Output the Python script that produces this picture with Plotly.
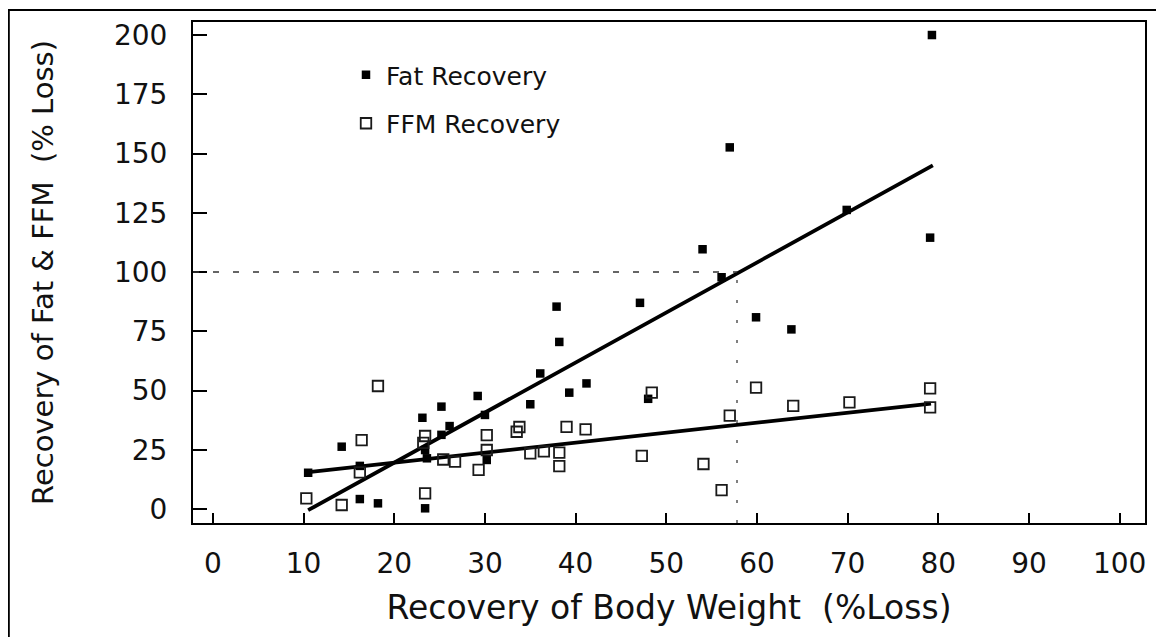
import plotly.graph_objects as go

# ---- data ----
fat_x = [10.5, 14.2, 16.2, 16.2, 18.2, 23.1, 23.4, 23.6, 23.4, 25.2, 25.2, 26.1,
         29.2, 30.0, 30.2, 36.1, 35.0, 37.9, 38.2, 39.3, 41.2, 47.1, 48.0, 54.0,
         56.1, 57.0, 59.9, 63.8, 69.9, 79.1, 79.3]
fat_y = [15.3, 26.3, 18.2, 4.2, 2.4, 38.5, 24.9, 21.4, 0.3, 43.2, 31.3, 35.0,
         47.7, 39.7, 20.7, 57.2, 44.2, 85.4, 70.5, 49.1, 53.0, 87.0, 46.5, 109.6,
         97.8, 152.6, 80.9, 75.8, 126.2, 114.5, 200.0]

ffm_x = [10.3, 14.2, 16.2, 16.4, 18.2, 23.4, 23.2, 23.4, 25.4, 26.7, 29.3, 30.2,
         30.2, 33.8, 33.5, 35.0, 36.5, 38.2, 38.2, 39.0, 41.1, 47.3, 48.4, 54.1,
         56.1, 57.0, 59.9, 64.0, 70.2, 79.1, 79.1]
ffm_y = [4.5, 1.7, 15.5, 29.1, 51.9, 30.8, 27.9, 6.6, 20.9, 20.0, 16.5, 31.2,
         24.9, 34.6, 32.6, 23.5, 24.3, 23.8, 18.1, 34.7, 33.6, 22.4, 49.1, 19.0,
         8.0, 39.4, 51.2, 43.5, 45.0, 50.9, 42.9]

# regression line end points (as drawn)
fat_fit_x = [10.5, 79.4]
fat_fit_y = [-0.5, 145.0]
ffm_fit_x = [10.3, 79.2]
ffm_fit_y = [15.5, 44.5]

ref_x = 57.8   # body weight recovery where fat recovery reaches 100 %
ref_y = 100.0

x_ticks = [0, 10, 20, 30, 40, 50, 60, 70, 80, 90, 100]
y_ticks = [0, 25, 50, 75, 100, 125, 150, 175, 200]
x_range = [-2.2, 102.8]
y_range = [-5.9, 205.5]

FONT = "DejaVu Sans"
INK = "#111111"

fig = go.Figure()

fig.add_trace(go.Scatter(
    x=fat_fit_x, y=fat_fit_y, mode="lines",
    line=dict(color="black", width=3.8), showlegend=False, hoverinfo="skip"))
fig.add_trace(go.Scatter(
    x=ffm_fit_x, y=ffm_fit_y, mode="lines",
    line=dict(color="black", width=3.8), showlegend=False, hoverinfo="skip"))

fig.add_trace(go.Scatter(
    x=fat_x, y=fat_y, mode="markers", name="Fat Recovery", legendgroup="a",
    marker=dict(symbol="square", size=8.5, color="black")))
fig.add_trace(go.Scatter(
    x=ffm_x, y=ffm_y, mode="markers", name="FFM Recovery", legendgroup="b",
    marker=dict(symbol="square-open", size=10.5, color="#1a1a1a",
                line=dict(width=1.8))))

# reference lines
fig.add_shape(type="line", xref="x", yref="y", x0=x_range[0], x1=ref_x,
              y0=ref_y, y1=ref_y, line=dict(color="#333", width=1.5, dash="6px,14px"))
fig.add_shape(type="line", xref="x", yref="y", x0=ref_x, x1=ref_x,
              y0=y_range[0], y1=ref_y, line=dict(color="#555", width=1.5, dash="3px,17px"))

# figure size / margins (page body adds an 8px offset)
W, H = 1156, 629
L, R, T, B = 185, 19, 14, 114
pw, ph = W - L - R, H - T - B
def px_x(p):
    return (p - L) / pw
def px_y(p):
    return (H - B - p) / ph

# outer picture border (left and top)
fig.add_shape(type="rect", xref="paper", yref="paper",
              x0=px_x(0.8), x1=px_x(W + 20), y0=px_y(2), y1=px_y(H + 20),
              line=dict(color="black", width=2), fillcolor="rgba(0,0,0,0)", layer="above")

fig.update_xaxes(
    range=x_range, tickvals=x_ticks, ticktext=[str(v) for v in x_ticks],
    showgrid=False, zeroline=False, showline=True, linecolor="black", linewidth=2,
    mirror=True, ticks="inside", ticklen=10, tickwidth=1.5, tickcolor="black",
    tickfont=dict(family=FONT, size=28, color=INK), ticklabelstandoff=14,
    title=dict(text="Recovery of Body Weight  (%Loss)",
               font=dict(family=FONT, size=33, color=INK), standoff=17))
fig.update_yaxes(
    range=y_range, tickvals=y_ticks, ticktext=[str(v) for v in y_ticks],
    showgrid=False, zeroline=False, showline=True, linecolor="black", linewidth=2,
    mirror=True, ticks="inside", ticklen=14, tickwidth=1.5, tickcolor="black",
    tickfont=dict(family=FONT, size=28, color=INK), ticklabelstandoff=18,
    title=dict(text="Recovery of Fat & FFM  (% Loss)",
               font=dict(family=FONT, size=29, color=INK), standoff=52))

fig.update_layout(
    width=W, height=H,
    margin=dict(l=L, r=R, t=T, b=B, autoexpand=False),
    paper_bgcolor="white", plot_bgcolor="white",
    showlegend=True,
    legend=dict(x=px_x(338), y=px_y(44), xanchor="left", yanchor="top",
                bgcolor="rgba(0,0,0,0)", borderwidth=0,
                font=dict(family=FONT, size=25, color=INK),
                traceorder="grouped", tracegroupgap=13),
)

fig.write_html("out.html")
